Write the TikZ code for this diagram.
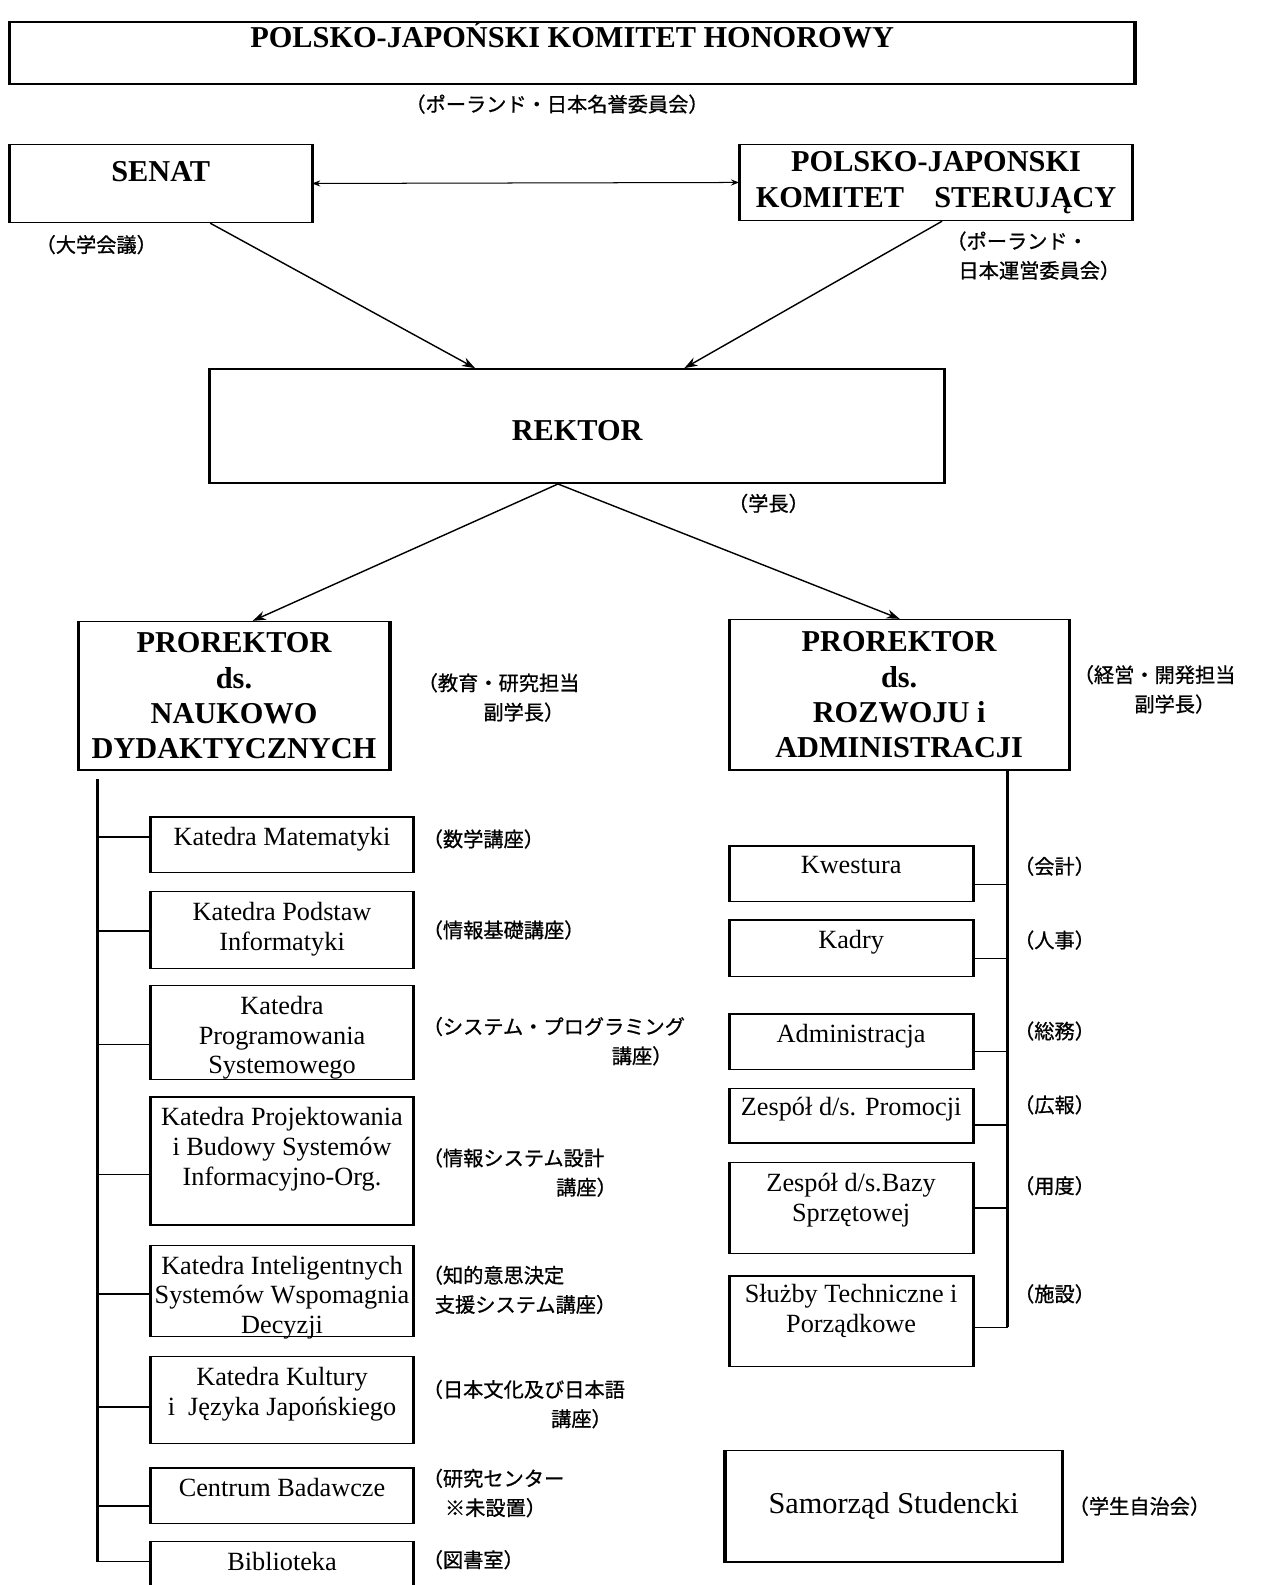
\documentclass[tikz,border=0pt]{standalone}
\usepackage{fontspec}
\setmainfont{Liberation Serif}
\newfontfamily\jp{Noto Sans CJK JP}[FakeBold=0.8]
\usetikzlibrary{arrows.meta,calc}
\begin{document}
\begin{tikzpicture}[x=1pt,y=-1pt,
  bx/.style={draw, line width=1.6pt, inner sep=0pt},
  head/.style={font=\bfseries\fontsize{30}{35}\selectfont, align=center},
  dept/.style={font=\fontsize{26}{29.5}\selectfont, align=center},
  intext/.style={dept, anchor=north, inner sep=0pt, yshift=-11pt},
  lbox/.style={bx, minimum width=258pt},
  rbox/.style={bx, minimum width=240pt},
  jpl/.style={font=\jp\fontsize{20}{29}\selectfont, align=left, anchor=west, inner sep=0pt},
  conn/.style={line width=1.4pt},
  side/.style={line width=3pt},
  trunk/.style={line width=2.8pt},
  arr/.style={line width=1.4pt, -{Stealth[length=13pt,width=9pt]}},
  darr/.style={line width=1pt, {Stealth[length=8pt,width=6pt]}-{Stealth[length=8pt,width=6pt]}},
]
\useasboundingbox (0,0) rectangle (1251,1568);

% top level
\node[bx, minimum width=1112pt, minimum height=61pt,
  label={[head, anchor=north, inner sep=0pt, yshift=0pt]north:{POLSKO-JAPOŃSKI KOMITET HONOROWY}}] (hon) at (566,52.5) {};
\node[jpl, anchor=center] (honjp) at (551,103) {（ポーランド・日本名誉委員会）};

\node[bx, minimum width=298pt, minimum height=77pt,
  label={[head, anchor=north, inner sep=0pt, yshift=-17pt]north:SENAT}] (senat) at (159,181.5) {};
\node[jpl] (senatjp) at (35,242) {（大学会議）};

\node[bx, head, minimum width=388pt, minimum height=75pt] (steer) at (926,180.5) {POLSKO-JAPONSKI\\KOMITET\quad STERUJĄCY};
\node[jpl] (steerjp) at (936,253) {（ポーランド・\\\hspace*{12pt}日本運営委員会）};

\draw[darr] (senat.east) -- (steer.west);

\node[bx, minimum width=726pt, minimum height=113pt,
  label={[head, anchor=north, inner sep=0pt, yshift=-52pt]north:REKTOR}] (rektor) at (571,421.5) {};
\node[jpl] (rektorjp) at (720,498) {（学長）};

\draw[arr] ([xshift=49pt]senat.south) -- ([xshift=-101pt]rektor.north);
\draw[arr] ([xshift=6pt]steer.south) -- ([xshift=106pt]rektor.north);

\node[bx, head, minimum width=307pt, minimum height=147pt] (prl) at (231.5,688.5) {PROREKTOR\\ds.\\NAUKOWO\\DYDAKTYCZNYCH};
\node[jpl] (prljp) at (413,690) {（教育・研究担当\\\hspace*{65pt}副学長）};

\node[bx, head, minimum width=335pt, minimum height=149pt] (prr) at (889.5,687.5) {PROREKTOR\\ds.\\ROZWOJU i\\ADMINISTRACJI};
\node[jpl] (prrjp) at (1062,682) {（経営・開発担当\\\hspace*{60pt}副学長）};

\draw[arr] ([xshift=-19pt]rektor.south) -- ([xshift=18.5pt]prl.north);
\draw[arr] ([xshift=-19pt]rektor.south) -- ([xshift=0.5pt]prr.north);

% left column
\coordinate (lt) at ([shift={(19,8)}]prl.south west);
\node[lbox, minimum height=55pt, label={[intext]north:{Katedra Matematyki}}] (km) at (279,835.5) {};
\node[lbox, minimum height=76pt, label={[intext]north:{Katedra Podstaw\\Informatyki}}] (kpi) at (279,920) {};
\node[lbox, minimum height=93pt, label={[intext]north:{Katedra\\Programowania\\Systemowego}}] (kps) at (279,1021.5) {};
\node[lbox, minimum height=127pt, label={[intext]north:{Katedra Projektowania\\i Budowy Systemów\\Informacyjno-Org.}}] (kpb) at (279,1148.5) {};
\node[lbox, minimum height=90pt, label={[intext]north:{Katedra Inteligentnych\\Systemów Wspomagnia\\Decyzji}}] (kis) at (279,1277) {};
\node[lbox, minimum height=86pt, label={[intext]north:{Katedra Kultury\\i~ Języka Japońskiego}}] (kk) at (279,1385) {};
\node[lbox, minimum height=55pt, label={[intext]north:{Centrum Badawcze}}] (cb) at (279,1479.5) {};
\node[lbox, minimum height=50pt, label={[intext]north:{Biblioteka}}] (bib) at (279,1550) {};

\coordinate (kmc) at ([yshift=7.5pt]km.west);
\coordinate (kpic) at ([yshift=-1pt]kpi.west);
\coordinate (kpsc) at ([yshift=-11.5pt]kps.west);
\coordinate (kpbc) at ([yshift=-13.5pt]kpb.west);
\coordinate (kisc) at ([yshift=-3pt]kis.west);
\coordinate (kkc) at ([yshift=-7pt]kk.west);
\coordinate (cbc) at ([yshift=-10.5pt]cb.west);
\coordinate (bibc) at ([yshift=5pt]bib.west);
\draw[trunk] (lt) -- (lt |- bibc);
\foreach \c in {kmc,kpic,kpsc,kpbc,kisc,kkc,cbc,bibc}
  \draw[conn] (\c) -- (lt |- \c);

\node[jpl] (kmjp) at (418,830) {（数学講座）};
\node[jpl] (kpijp) at (418,920) {（情報基礎講座）};
\node[jpl] (kpsjp) at (418,1030) {（システム・プログラミング\\\hspace*{187pt}講座）};
\node[jpl] (kpbjp) at (418,1160) {（情報システム設計\\\hspace*{132pt}講座）};
\node[jpl] (kisjp) at (418,1276) {（知的意思決定\\\hspace*{12pt}支援システム講座）};
\node[jpl] (kkjp) at (418,1389) {（日本文化及び日本語\\\hspace*{127pt}講座）};
\node[jpl] (cbjp) at (418,1477) {（研究センター\\\hspace*{22pt}※未設置）};
\node[jpl] (bibjp) at (418,1543) {（図書室）};

% right column
\coordinate (rt) at ([xshift=107.5pt]prr.south);
\node[rbox, minimum height=55pt, label={[intext]north:{Kwestura}}] (kw) at (842,864.5) {};
\node[rbox, minimum height=56pt, label={[intext]north:{Kadry}}] (kad) at (842,938) {};
\node[rbox, minimum height=55pt, label={[intext]north:{Administracja}}] (adm) at (842,1030.5) {};
\node[rbox, minimum height=54pt, label={[intext, yshift=2pt]north:{Zespół d/s. Promocji}}] (zp) at (842,1104) {};
\node[rbox, minimum height=90pt, label={[intext]north:{Zespół d/s.Bazy\\Sprzętowej}}] (zb) at (842,1195) {};
\node[rbox, minimum height=90pt, label={[intext, yshift=2pt]north:{Służby Techniczne i\\Porządkowe}}] (sl) at (842,1307) {};

\coordinate (kwc) at ([yshift=-10.5pt]kw.east);
\coordinate (kadc) at ([yshift=-10pt]kad.east);
\coordinate (admc) at ([yshift=-9.5pt]adm.east);
\coordinate (zpc) at ([yshift=-9pt]zp.east);
\coordinate (zbc) at (zb.east);
\coordinate (slc) at ([yshift=-6pt]sl.east);
\draw[trunk] (rt) -- (rt |- slc);
\foreach \c in {kwc,kadc,admc,zpc,zbc,slc}
  \draw[conn] (\c) -- (rt |- \c);

\node[jpl] (kwjp) at (1003,857) {（会計）};
\node[jpl] (kadjp) at (1003,930) {（人事）};
\node[jpl] (admjp) at (1003,1020) {（総務）};
\node[jpl] (zpjp) at (1003,1093) {（広報）};
\node[jpl] (zbjp) at (1003,1173) {（用度）};
\node[jpl] (sljp) at (1003,1280) {（施設）};

\node[bx, minimum width=332pt, minimum height=110pt, font=\fontsize{30}{36}\selectfont] (sam) at (884,1490) {Samorząd Studencki};
\node[jpl] (samjp) at (1057,1490) {（学生自治会）};

% thicker vertical sides of the boxes
\foreach \n in {hon,senat,steer,rektor,prl,prr,km,kpi,kps,kpb,kis,kk,cb,bib,kw,kad,adm,zp,zb,sl,sam}
  \draw[side] (\n.north west) -- (\n.south west) (\n.north east) -- (\n.south east);
\end{tikzpicture}
\end{document}
